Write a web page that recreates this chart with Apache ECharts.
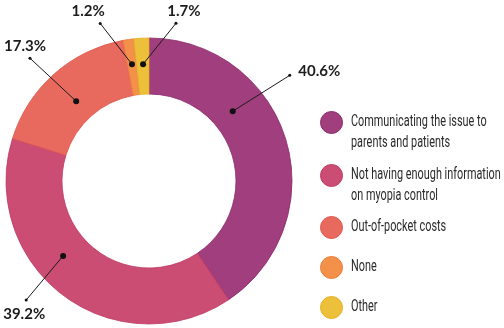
<!DOCTYPE html>
<html><head><meta charset="utf-8">
<script src="https://cdn.jsdelivr.net/npm/echarts@6/dist/echarts.min.js"></script>
<style>html,body{margin:0;padding:0;background:#fff}#c{width:504px;height:328px}</style>
</head><body><div id="c"></div>
<script>
const categories = ['Communicating the issue to parents and patients','Not having enough information on myopia control','Out-of-pocket costs','None','Other'];
const legendLines = ['Communicating the issue to\nparents and patients','Not having enough information\non myopia control','Out-of-pocket costs','None','Other'];
const values = [40.6, 39.2, 17.3, 1.2, 1.7];
const colors = ['#a03e7e','#cb4d73','#e8695e','#f3904a','#ecc03b'];
const borders = ['#8c2a6a','#bd3a62','#e0584c','#ec7d36','#e3b020'];
// annotation geometry (radius px, angle deg clockwise from top)
const dotPos = [[109,50.2],[114,228.9],[108,317.6],[118,351.7],[117,357.1]];
const endPos = [[176,53.1],[171,225.9],[171,315.9],[165,342.8],[160,9.7]];
const labelPlace = [['right',[2,-4]],['bottom',[-2,0]],['top',[-5,2]],['top',[-12,2]],['top',[8,2]]];
const legendCenters = [122,175,227,267,307];

const CX = 149, CY = 181, R0 = 87, R1 = 143, RP = 200;
const chart = echarts.init(document.getElementById('c'), null, {renderer:'canvas'});

const legends = categories.map((name, i) => ({
  data: [name], orient: 'vertical', left: 320, top: legendCenters[i] - 11,
  itemWidth: 22, itemHeight: 22, icon: 'circle', padding: 0,
  selectedMode: false, formatter: () => '',
  itemStyle: { borderColor: borders[i], borderWidth: 1 }
}));

const legendTexts = legendLines.map((t, i) => ({
  type: 'text', x: 351, y: legendCenters[i] - 11, scaleX: 0.64, silent: true,
  style: { text: t, fontFamily: 'Roboto, sans-serif', fontSize: 17, lineHeight: 21,
    fill: '#2a2a2a', verticalAlign: 'top', align: 'left' }
}));

const leaderSeries = values.map((v, i) => ({
  type: 'line', coordinateSystem: 'polar', clip: false, silent: true,
  lineStyle: { color: '#1a1a1a', width: 1 },
  itemStyle: { color: '#111' },
  symbol: 'circle', animation: false, z: 5,
  data: [
    { value: dotPos[i], symbolSize: 6 },
    { value: endPos[i], symbolSize: 3,
      label: { show: true, position: labelPlace[i][0], offset: labelPlace[i][1], distance: 5,
        formatter: () => v.toFixed(1) + '%',
        fontFamily: 'Lato, sans-serif', fontWeight: 'bold', fontSize: 15, color: '#1c1c1c' } }
  ]
}));

chart.setOption({
  animation: false,
  color: colors,
  legend: legends,
  graphic: legendTexts,
  polar: { center: [CX, CY], radius: RP },
  angleAxis: { type: 'value', min: 0, max: 360, startAngle: 90, clockwise: true, show: false },
  radiusAxis: { type: 'value', min: 0, max: RP, show: false },
  series: [{
    type: 'pie', center: [CX, CY], radius: [R0, R1], startAngle: 90, clockwise: true,
    label: { show: false }, labelLine: { show: false }, silent: true,
    data: categories.map((n, i) => ({ name: n, value: values[i],
      itemStyle: { color: colors[i], borderColor: borders[i], borderWidth: 0.8 } }))
  }].concat(leaderSeries)
});
</script></body></html>
